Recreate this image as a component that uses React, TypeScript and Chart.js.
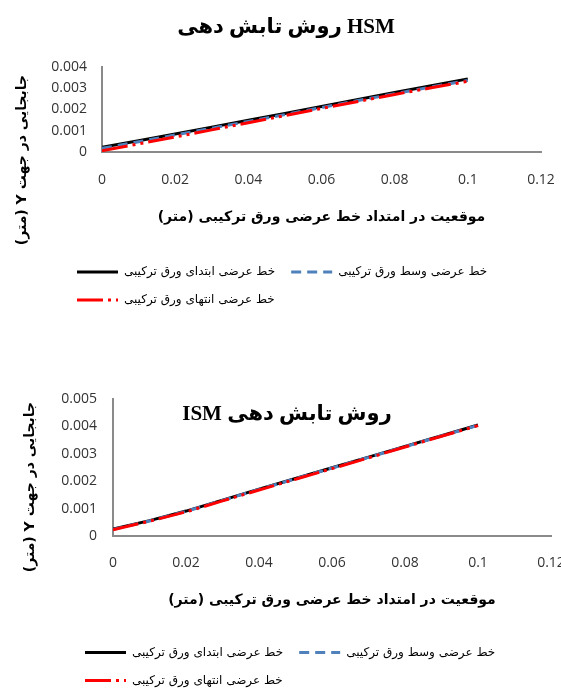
import React, { useEffect, useRef } from "react";
import { Chart, registerables } from "chart.js";

Chart.register(...registerables);

// ---------- data ----------
const positions = [0, 0.01, 0.02, 0.03, 0.04, 0.05, 0.06, 0.07, 0.08, 0.09, 0.1];

const hsmStart = [0.00022, 0.00053, 0.00085, 0.00117, 0.00149, 0.00181, 0.00214, 0.00247, 0.0028, 0.00312, 0.00344];
const hsmMiddle = [0.00017, 0.00048, 0.0008, 0.00112, 0.00144, 0.00176, 0.00209, 0.00242, 0.00274, 0.00306, 0.00337];
const hsmEnd = [0.00006, 0.00038, 0.00071, 0.00104, 0.00138, 0.00171, 0.00205, 0.00238, 0.00271, 0.00302, 0.00333];

const ismStart = [0.00025, 0.00056, 0.00091, 0.00131, 0.00171, 0.0021, 0.00249, 0.00288, 0.00327, 0.00366, 0.00405];
const ismMiddle = [0.00024, 0.00055, 0.0009, 0.0013, 0.0017, 0.00209, 0.00248, 0.00287, 0.00326, 0.00365, 0.00404];
const ismEnd = [0.00023, 0.00054, 0.00088, 0.00128, 0.00168, 0.00207, 0.00246, 0.00285, 0.00325, 0.00364, 0.00403];

const seriesLabels = [
  "خط عرضی ابتدای ورق ترکیبی",
  "خط عرضی وسط ورق ترکیبی",
  "خط عرضی انتهای ورق ترکیبی",
];

const hsmTitle = "روش تابش دهی HSM";
const ismTitle = "روش تابش دهی ISM";
const xTitle = "موقعیت در امتداد خط عرضی ورق ترکیبی (متر)";
const yTitle = "جابجایی در جهت Y (متر)";

const xMin = 0;
const xMax = 0.12;
const xStep = 0.02;
const hsmYMax = 0.004;
const ismYMax = 0.005;
const yStep = 0.001;

// ---------- helpers ----------
const fmt = (v: any) => String(Number(Number(v).toFixed(4)));
const toPoints = (ys: number[]) => positions.map((x, i) => ({ x, y: ys[i] }));

const tickFont = { family: "'Open Sans', 'Liberation Sans', sans-serif", size: 14 };
const faFont = "'DejaVu Sans', sans-serif";

type Layout = {
  padLeft: number; padRight: number; padTop: number; padBottom: number;
  yWidth: number; xHeight: number; xTickPad: number; xTitlePad: number;
  yTickPad: number; yMax: number; legendShift: number;
  title: string; titleDir: string; titleX: number; titleY: number; yTitleX: number; yTitleY: number;
};

function textPlugin(l: Layout) {
  return {
    id: "persianTexts",
    afterLayout(chart: any) {
      const lg = chart.legend;
      if (lg) {
        lg.left += l.legendShift;
        lg.right += l.legendShift;
      }
    },
    afterDraw(chart: any) {
      const ctx = chart.ctx as CanvasRenderingContext2D;
      ctx.save();
      ctx.fillStyle = "#000";
      ctx.textAlign = "center";
      ctx.textBaseline = "middle";
      (ctx as any).direction = l.titleDir;
      ctx.font = "bold 21px 'Liberation Serif', 'DejaVu Sans', serif";
      ctx.fillText(l.title, l.titleX, l.titleY);
      (ctx as any).direction = "rtl";
      ctx.font = "bold 14px " + faFont;
      ctx.translate(l.yTitleX, l.yTitleY);
      ctx.rotate(-Math.PI / 2);
      ctx.fillText(yTitle, 0, 0);
      ctx.restore();
    },
  };
}

function legendLabels(chart: any) {
  const items = (Chart as any).defaults.plugins.legend.labels.generateLabels(chart);
  return items.map((it: any) => {
    const ds = chart.data.datasets[it.datasetIndex];
    return {
      ...it,
      lineDash: ds.borderDash || [],
      lineDashOffset: ds.borderDashOffset || 0,
      lineWidth: ds.borderWidth,
      strokeStyle: ds.borderColor,
      fillStyle: ds.borderColor,
      lineCap: "butt",
    };
  });
}

function buildConfig(start: number[], middle: number[], end: number[], l: Layout): any {
  return {
    type: "line",
    data: {
      datasets: [
        {
          label: seriesLabels[2],
          data: toPoints(end),
          borderColor: "#ff0000",
          backgroundColor: "#ff0000",
          borderWidth: 3,
          borderDash: [26, 5, 3, 5, 3, 5],
          borderDashOffset: 0,
        },
        {
          label: seriesLabels[1],
          data: toPoints(middle),
          borderColor: "#4f81bd",
          backgroundColor: "#4f81bd",
          borderWidth: 3,
          borderDash: [10, 6],
        },
        {
          label: seriesLabels[0],
          data: toPoints(start),
          borderColor: "#000000",
          backgroundColor: "#000000",
          borderWidth: 3,
        },
      ],
    },
    options: {
      animation: false,
      responsive: false,
      devicePixelRatio: 1,
      events: [],
      elements: { point: { radius: 0 }, line: { tension: 0, fill: false } },
      layout: { padding: { left: l.padLeft, right: l.padRight, top: l.padTop, bottom: l.padBottom } },
      scales: {
        x: {
          type: "linear",
          min: xMin,
          max: xMax,
          grid: { display: false, drawTicks: false },
          border: { display: true, color: "#8a8a8a", width: 2 },
          ticks: { stepSize: xStep, padding: l.xTickPad, font: tickFont, color: "#333", callback: fmt, maxRotation: 0 },
          title: {
            display: true,
            text: xTitle + "\u200F",
            color: "#000",
            font: { family: faFont, size: 14, weight: "bold" },
            padding: { top: 0, bottom: l.xTitlePad },
          },
          afterFit: (s: any) => { s.height = l.xHeight; s.paddingRight = 0; s.paddingLeft = 0; },
        },
        y: {
          type: "linear",
          min: 0,
          max: l.yMax,
          grid: { display: false, drawTicks: false },
          border: { display: true, color: "#8a8a8a", width: 2 },
          ticks: { stepSize: yStep, padding: l.yTickPad, font: tickFont, color: "#333", callback: fmt },
          afterFit: (s: any) => { s.width = l.yWidth; },
        },
      },
      plugins: {
        title: { display: false },
        tooltip: { enabled: false },
        legend: {
          display: true,
          position: "bottom",
          align: "start",
          labels: {
            usePointStyle: true,
            pointStyle: "line",
            pointStyleWidth: 41,
            padding: 16,
            color: "#000",
            font: { family: faFont, size: 12 },
            generateLabels: legendLabels,
            sort: (a: any, b: any) => b.datasetIndex - a.datasetIndex,
          },
        },
      },
    },
    plugins: [textPlugin(l)],
  };
}

const hsmLayout: Layout = {
  padLeft: 46, padRight: 20, padTop: 67, padBottom: 14,
  yWidth: 56, xHeight: 98, xTickPad: 20, xTitlePad: 24.6, yTickPad: 15, yMax: hsmYMax, legendShift: 15,
  title: hsmTitle, titleDir: "ltr", titleX: 286, titleY: 28, yTitleX: 22, yTitleY: 160,
};

const ismLayout: Layout = {
  padLeft: 54, padRight: 10, padTop: 39, padBottom: 3.5,
  yWidth: 59, xHeight: 94.5, xTickPad: 18.6, xTitlePad: 22.1, yTickPad: 16, yMax: ismYMax, legendShift: 15,
  title: ismTitle, titleDir: "rtl", titleX: 287, titleY: 55, yTitleX: 30, yTitleY: 127,
};

function ChartCanvas(props: { top: number; height: number; config: () => any }) {
  const ref = useRef<HTMLCanvasElement | null>(null);
  useEffect(() => {
    if (!ref.current) return;
    const chart = new Chart(ref.current, props.config());
    return () => chart.destroy();
  }, []);
  return (
    <canvas
      ref={ref}
      width={561}
      height={props.height}
      style={{ position: "absolute", left: 0, top: props.top, width: 561, height: props.height }}
    />
  );
}

export default function App() {
  return (
    <div style={{ position: "absolute", left: 0, top: 0, width: 561, height: 690, overflow: "hidden", background: "#fff" }}>
      <ChartCanvas top={0} height={330} config={() => buildConfig(hsmStart, hsmMiddle, hsmEnd, hsmLayout)} />
      <ChartCanvas top={360} height={340} config={() => buildConfig(ismStart, ismMiddle, ismEnd, ismLayout)} />
    </div>
  );
}
